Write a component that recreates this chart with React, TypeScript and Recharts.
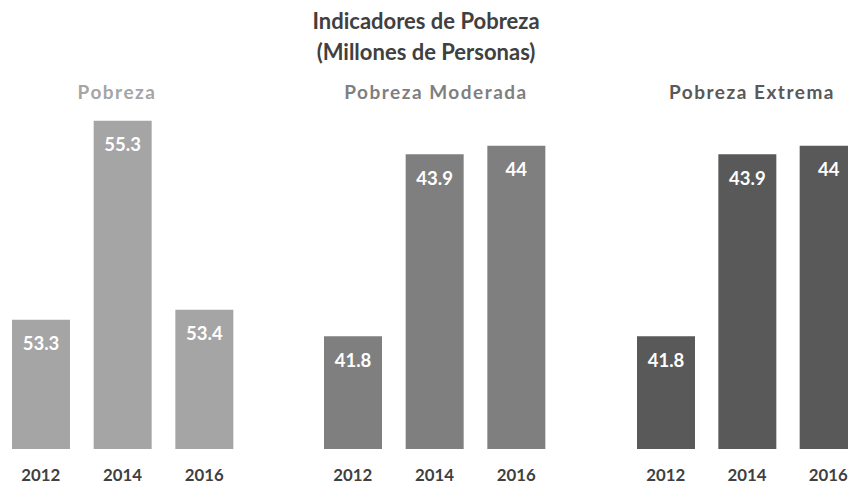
import React from 'react';
import { BarChart, Bar, XAxis, YAxis, LabelList } from 'recharts';

const years = ['2012', '2014', '2016'];
const pobreza = [53.3, 55.3, 53.4];
const moderada = [41.8, 43.9, 44];
const extrema = [41.8, 43.9, 44];
const panelTitles = ['Pobreza', 'Pobreza Moderada', 'Pobreza Extrema'];
const mainTitle = ['Indicadores de Pobreza', '(Millones de Personas)'];

const FONT = 'Lato, "Open Sans", sans-serif';

const toRows = (vals: number[]) => years.map((y, i) => ({ year: y, value: vals[i] }));

const panels = [
  { title: panelTitles[0], values: pobreza, color: '#A5A5A5', left: 0, width: 245, domain: [52, 56], top: 51, titleX: 117 },
  { title: panelTitles[1], values: moderada, color: '#7F7F7F', left: 312, width: 245, domain: [40.5, 45], top: 59, titleX: 436 },
  { title: panelTitles[2], values: extrema, color: '#595959', left: 625, width: 244, domain: [40.5, 45], top: 59, titleX: 752 },
];

export default function App() {
  return (
    <div style={{ position: 'fixed', left: 0, top: 0, width: 848, height: 484, overflow: 'hidden', background: '#fff', fontFamily: FONT }}>
      {panels.map((p) => (
        <div key={p.title} style={{ position: 'absolute', left: p.left, top: 0 }}>
          <BarChart width={p.width} height={484} data={toRows(p.values)} margin={{ top: p.top, right: 0, bottom: 0, left: 0 }}>
            <XAxis
              dataKey="year"
              height={35}
              tickLine={false}
              axisLine={false}
              tickSize={0}
              tickMargin={20}
              interval={0}
              tick={{ fill: '#404040', fontSize: 16.8, fontWeight: 700, fontFamily: FONT }}
            />
            <YAxis hide domain={p.domain} allowDataOverflow />
            <Bar dataKey="value" fill={p.color} barSize={58} isAnimationActive={false}>
              <LabelList
                dataKey="value"
                position="insideTop"
                offset={17.5}
                fill="#FFFFFF"
                style={{ fontSize: 18.5, fontWeight: 700, fontFamily: FONT }}
              />
            </Bar>
          </BarChart>
        </div>
      ))}
      <svg width={848} height={484} style={{ position: 'absolute', left: 0, top: 0, pointerEvents: 'none' }}>
        <text x={426} y={28.5} textAnchor="middle" fill="#404040" fontSize={22} fontWeight={700} fontFamily={FONT}>{mainTitle[0]}</text>
        <text x={426} y={59.5} textAnchor="middle" fill="#404040" fontSize={22} fontWeight={700} fontFamily={FONT}>{mainTitle[1]}</text>
        {panels.map((p) => (
          <text key={p.title} x={p.titleX} y={98.5} textAnchor="middle" fill={p.color} fontSize={19} fontWeight={700} fontFamily={FONT} letterSpacing={1.5}>{p.title}</text>
        ))}
      </svg>
    </div>
  );
}
